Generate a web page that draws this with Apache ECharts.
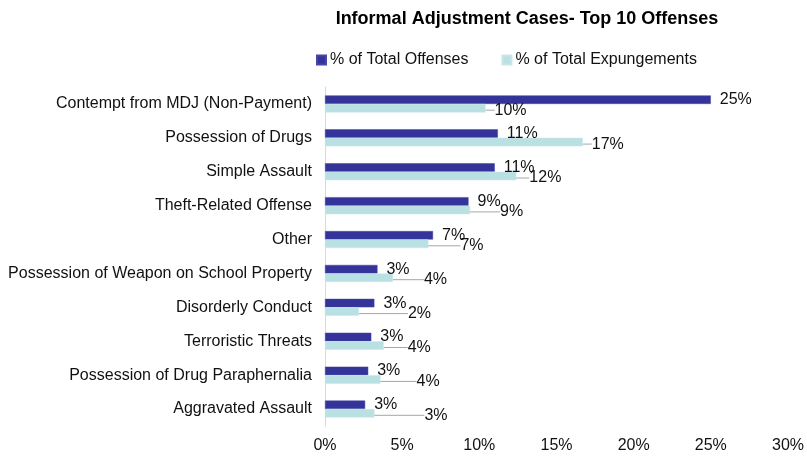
<!DOCTYPE html>
<html>
<head>
<meta charset="utf-8">
<script src="https://cdn.jsdelivr.net/npm/echarts@6/dist/echarts.min.js"></script>
<style>html,body{margin:0;padding:0;background:#fff}#c{width:807px;height:456px}</style>
</head>
<body>
<div id="c"></div>
<script>
const categories = ["Contempt from MDJ (Non-Payment)", "Possession of Drugs", "Simple Assault", "Theft-Related Offense", "Other", "Possession of Weapon on School Property", "Disorderly Conduct", "Terroristic Threats", "Possession of Drug Paraphernalia", "Aggravated Assault"];
const offenses = [25.0, 11.2, 11.0, 9.3, 7.0, 3.4, 3.2, 3.0, 2.8, 2.6];
const expungements = [10.4, 16.7, 12.4, 9.4, 6.7, 4.4, 2.2, 3.8, 3.6, 3.2];
const xTicks = [0, 5, 10, 15, 20, 25, 30];
// label nudges (styling only)
const expLabelShift = [0, 0, 4, 21, 23, 22, 40, 15, 27, 41];

const chart = echarts.init(document.getElementById('c'), null, {renderer: 'canvas'});
const font = 'Liberation Sans, Arial, sans-serif';
chart.setOption({
  animation: false,
  textStyle: {fontFamily: font},
  title: {
    text: 'Informal Adjustment Cases- Top 10 Offenses',
    left: 522, textAlign: 'center', top: 5,
    textStyle: {fontSize: 18, fontWeight: 'bold', color: '#000', fontFamily: font}
  },
  legend: {
    top: 47, left: 311,
    itemWidth: 9, itemHeight: 9, itemGap: 33,
    icon: 'rect',
    textStyle: {fontSize: 16, color: '#111', fontFamily: font, padding: [0, 0, 0, -1]},
    data: ['% of Total Offenses', '% of Total Expungements']
  },
  grid: {left: 325, right: 15, top: 87, bottom: 30, containLabel: false},
  xAxis: {
    type: 'value', min: xTicks[0], max: xTicks[xTicks.length - 1], interval: 5,
    axisLine: {show: false}, axisTick: {show: false}, splitLine: {show: false},
    axisLabel: {formatter: v => v + '%', fontSize: 16, color: '#111', margin: 12, fontFamily: font}
  },
  yAxis: {
    type: 'category', data: categories, inverse: true,
    axisLine: {show: true, lineStyle: {color: '#d9d9d9', width: 1}},
    axisTick: {show: false},
    axisLabel: {fontSize: 16, color: '#111', margin: 13, fontFamily: font}
  },
  series: [
    {
      name: '% of Total Offenses', type: 'bar', data: offenses,
      barWidth: 8.5, barGap: '0%',
      itemStyle: {color: '#333399', borderColor: '#4646a6', borderWidth: 0.5},
      label: {show: true, position: 'right', distance: 9, fontSize: 16, color: '#111',
        formatter: p => Math.round(p.value) + '%', fontFamily: font}
    },
    {
      name: '% of Total Expungements', type: 'bar', data: expungements,
      barWidth: 8.5, barGap: '0%',
      itemStyle: {color: '#b9e0e3', borderColor: '#c9e6e9', borderWidth: 0.5},
      label: {show: true, position: 'right', distance: 9, fontSize: 16, color: '#111',
        formatter: p => Math.round(p.value) + '%', fontFamily: font},
      labelLine: {show: true, lineStyle: {color: '#a6a6a6', width: 1}},
      labelLayout: p => ({dx: expLabelShift[p.dataIndex], dy: 2})
    }
  ]
});
</script>
</body>
</html>
